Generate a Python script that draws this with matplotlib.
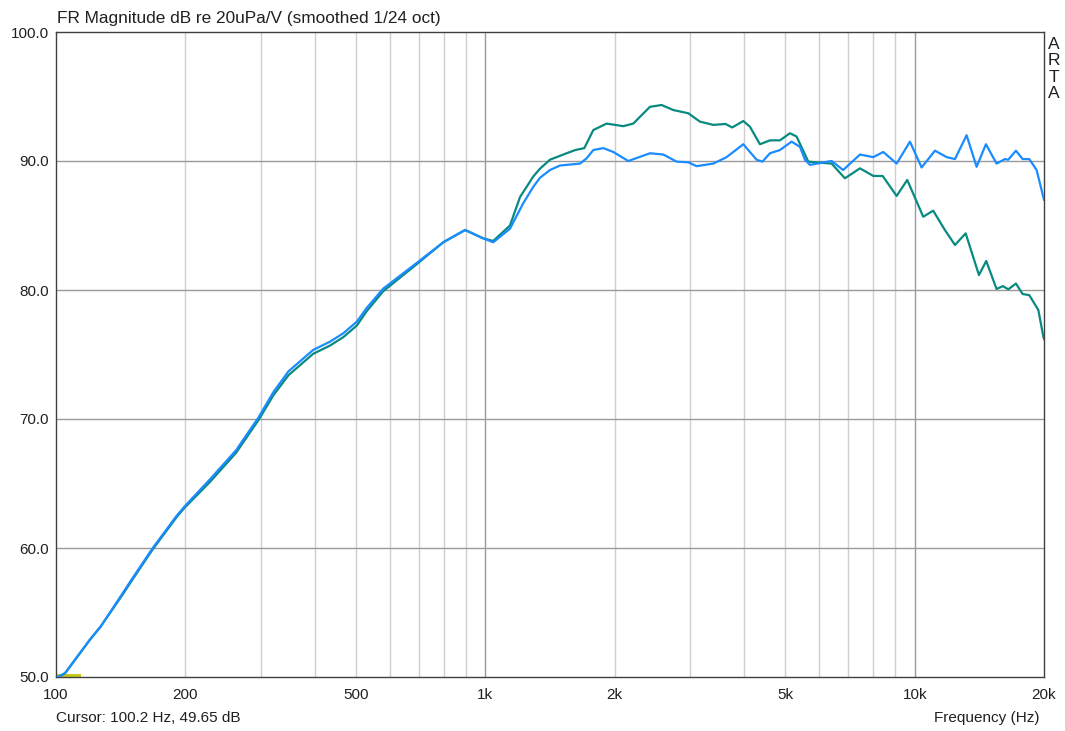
import numpy as np
from matplotlib import pyplot as plt

# values
freq_a = [100, 105, 120, 127, 143, 151, 168, 191, 199, 228, 263, 273, 296, 321,
          348, 397, 435, 467, 502, 529, 578, 692, 798, 897, 989, 1043, 1141,
          1224, 1293, 1340, 1414, 1492, 1661, 1720, 1784, 1882, 1986, 2152, 2417,
          2597, 2789, 2969, 3104, 3395, 3646, 3988, 4282, 4418, 4600, 4853, 5167,
          5403, 5550, 5701, 6402, 6812, 7455, 8008, 8448, 9075, 9745, 10375,
          11146, 11866, 12408, 13206, 13935, 14648, 15507, 16218, 16510, 17206,
          17831, 18483, 19222, 19930, 20000]
spl_a = [49.9, 50.3, 52.9, 53.9, 56.5, 57.7, 60.0, 62.5, 63.2, 65.3, 67.6, 68.4,
         70.1, 72.1, 73.7, 75.35, 76.0, 76.65, 77.55, 78.6, 80.1, 82.1, 83.7,
         84.65, 84.0, 83.7, 84.75, 86.7, 88.0, 88.7, 89.3, 89.65, 89.8, 90.2,
         90.85, 91.0, 90.7, 90.0, 90.6, 90.5, 89.95, 89.9, 89.6, 89.8, 90.3, 91.3,
         90.1, 89.95, 90.6, 90.85, 91.5, 91.1, 90.1, 89.7, 90.0, 89.3, 90.5, 90.3,
         90.7, 89.8, 91.5, 89.5, 90.8, 90.3, 90.15, 92.0, 89.55, 91.3, 89.8, 90.15,
         90.1, 90.8, 90.15, 90.15, 89.3, 87.2, 87.0]

freq_b = [100, 105, 120, 127, 143, 151, 168, 191, 199, 228, 263, 273, 296, 321,
          348, 397, 435, 467, 502, 529, 578, 692, 798, 897, 989, 1043, 1141,
          1204, 1293, 1340, 1414, 1546, 1620, 1700, 1784, 1916, 2095, 2210, 2417,
          2573, 2740, 2969, 3161, 3395, 3627, 3758, 3988, 4132, 4360, 4600, 4853,
          5121, 5306, 5650, 6402, 6877, 7455, 8008, 8420, 9075, 9605, 10466,
          11040, 11755, 12408, 13140, 14110, 14672, 15507, 16047, 16510, 17206,
          17831, 18483, 19403, 19930, 20000]
spl_b = [49.9, 50.3, 52.9, 53.9, 56.4, 57.6, 59.9, 62.4, 63.1, 65.1, 67.4, 68.2,
         69.9, 71.85, 73.4, 75.05, 75.7, 76.35, 77.25, 78.35, 79.9, 82.0, 83.7,
         84.65, 84.0, 83.8, 85.0, 87.2, 88.8, 89.4, 90.1, 90.6, 90.85, 91.0, 92.4,
         92.9, 92.7, 92.9, 94.2, 94.34, 93.95, 93.7, 93.05, 92.8, 92.87, 92.6,
         93.1, 92.66, 91.3, 91.6, 91.6, 92.15, 91.9, 89.95, 89.8, 88.66, 89.43,
         88.84, 88.84, 87.29, 88.53, 85.68, 86.15, 84.65, 83.49, 84.39, 81.16,
         82.25, 80.08, 80.3, 80.05, 80.5, 79.69, 79.6, 78.45, 76.38, 76.2]

cursor_f = [100, 113]
cursor_db = [50.15, 50.15]

xticks = [100, 200, 500, 1000, 2000, 5000, 10000, 20000]
xlabels = ["100", "200", "500", "1k", "2k", "5k", "10k", "20k"]
grid_f = [200, 300, 400, 500, 600, 700, 800, 900, 1000, 2000, 3000, 4000, 5000,
          6000, 7000, 8000, 9000, 10000]
yticks = [50, 60, 70, 80, 90, 100]

plt.rcParams['font.family'] = ['Liberation Sans', 'DejaVu Sans']

fig = plt.figure(figsize=(10.65, 7.31), dpi=100)
ax = fig.add_axes([56/1065, 1-677/731, (1044-56)/1065, (677-32)/731])

for f in grid_f:
    dec = f in (1000, 10000)
    ax.axvline(f, color="#9a9a9a" if dec else "#cfcfcf", lw=1.0, zorder=1)
for y in yticks[1:-1]:
    ax.axhline(y, color="#9a9a9a", lw=1.0, zorder=1)

ax.plot(freq_b, spl_b, color="#088a80", lw=1.6, zorder=3)
ax.plot(freq_a, spl_a, color="#1a8cff", lw=1.6, zorder=4)
ax.plot(cursor_f, cursor_db, color="#c8c81e", lw=2.2, zorder=2)

ax.set_xscale("log")
ax.set_xlim(100, 20000)
ax.set_ylim(50, 100)
ax.set_xticks(xticks, xlabels)
ax.set_xticks([], minor=True)
ax.set_yticks(yticks, ["%.1f" % v for v in yticks])
ax.tick_params(length=0, labelsize=11, colors="#202020")
ax.tick_params(axis="x", pad=8)
ax.tick_params(axis="y", pad=5)
for s in ax.spines.values():
    s.set_color("#404040")
    s.set_linewidth(1.0)

fig.text(57/1065, 1-18/731, "FR Magnitude dB re 20uPa/V (smoothed 1/24 oct)",
         fontsize=12.4, va="center", ha="left", color="#202020")
fig.text(1054/1065, 1-69/731, "A\nR\nT\nA", fontsize=12.5, va="center",
         ha="center", linespacing=1.1, color="#202020")
fig.text(56/1065, 1-718/731, "Cursor: 100.2 Hz, 49.65 dB", fontsize=11,
         va="center", ha="left", color="#202020")
fig.text(1040/1065, 1-718/731, "Frequency (Hz)", fontsize=11, va="center",
         ha="right", color="#202020")

fig.savefig("out.png", dpi=100)
